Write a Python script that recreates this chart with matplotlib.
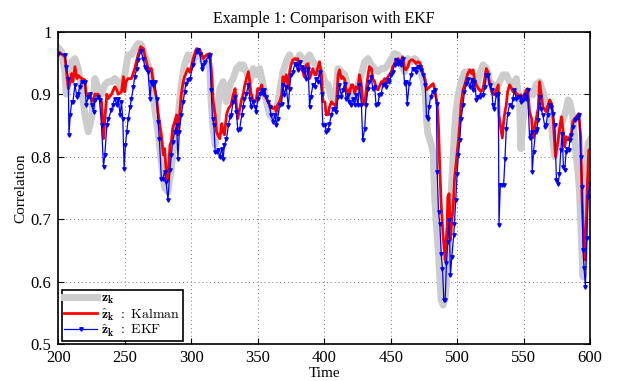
import numpy as np
import matplotlib
matplotlib.use("Agg")
import matplotlib.pyplot as plt
from matplotlib.ticker import FuncFormatter

# true correlation z_k (grey)
t_true = [200, 202.5, 205, 206, 207.5, 210, 212.5, 215, 217.5, 220, 222.5, 225, 226.5, 227.5, 230,
          232.5, 235, 237.5, 240, 242.5, 245, 247.5, 250, 252.5, 255, 257.5, 260, 262.5, 265, 267.5,
          270, 272.5, 275, 277.5, 280, 282.5, 285, 287.5, 290, 292.5, 295, 297.5, 300, 301.5, 304,
          306.5, 309, 311.5, 314, 315, 316.5, 318, 319, 320, 321.5, 324, 326.5, 329, 331.5, 334,
          336.5, 338, 339, 341.5, 344, 346.5, 349, 351.5, 354, 356.5, 359, 361.5, 364, 366.5, 369,
          371.5, 374, 376.5, 379, 381.5, 384, 386.5, 389, 391.5, 394, 396.5, 399, 400.5, 403, 405.5,
          408, 410.5, 413, 415.5, 418, 420.5, 423, 425.5, 428, 430.5, 433, 435.5, 438, 440.5, 443,
          445.5, 448, 450.5, 453, 455.5, 458, 460.5, 463, 465.5, 468, 470.5, 472, 474.5, 476, 477,
          478, 479.5, 481, 482, 483, 484.5, 486, 487, 488, 489.5, 491, 492, 493, 494.5, 496, 497.5,
          499, 501, 503, 505.5, 507, 509.5, 512, 514.5, 517, 519.5, 522, 524.5, 527, 529.5, 532,
          534.5, 537, 539.5, 542, 544.5, 547, 548, 549.5, 552, 554.5, 557, 559.5, 562, 564.5, 567,
          569.7, 572, 573.5, 574.7, 577, 579.7, 582, 583.5, 584.7, 586, 587, 589.7, 591, 592, 593.5,
          594.7, 596, 597, 598.5, 600]
z_true = [0.974, 0.968, 0.936, 0.9, 0.92, 0.952, 0.957, 0.941, 0.91, 0.867, 0.84, 0.861, 0.9, 0.925, 0.91,
          0.9, 0.915, 0.92, 0.92, 0.925, 0.92, 0.904, 0.931, 0.963, 0.963, 0.973, 0.981, 0.979, 0.963, 0.947,
          0.931, 0.877, 0.84, 0.792, 0.75, 0.744, 0.781, 0.829, 0.861, 0.915, 0.947, 0.963, 0.955, 0.952, 0.968,
          0.963, 0.952, 0.957, 0.941, 0.888, 0.845, 0.819, 0.835, 0.877, 0.909, 0.92, 0.888, 0.915, 0.925, 0.941,
          0.947, 0.941, 0.947, 0.936, 0.92, 0.941, 0.931, 0.941, 0.915, 0.888, 0.867, 0.861, 0.872, 0.904, 0.936,
          0.952, 0.963, 0.952, 0.952, 0.963, 0.957, 0.952, 0.963, 0.952, 0.947, 0.941, 0.931, 0.92, 0.915, 0.893,
          0.888, 0.941, 0.936, 0.931, 0.909, 0.888, 0.888, 0.915, 0.931, 0.952, 0.957, 0.947, 0.941, 0.936, 0.941,
          0.941, 0.947, 0.957, 0.965, 0.963, 0.947, 0.936, 0.957, 0.952, 0.957, 0.952, 0.939, 0.923, 0.901, 0.859,
          0.837, 0.827, 0.816, 0.805, 0.741, 0.688, 0.645, 0.608, 0.571, 0.563, 0.575, 0.6, 0.64, 0.7, 0.76, 0.82,
          0.87, 0.9, 0.92, 0.935, 0.936, 0.936, 0.931, 0.909, 0.931, 0.947, 0.941, 0.92, 0.915, 0.909, 0.92,
          0.931, 0.931, 0.92, 0.915, 0.925, 0.888, 0.813, 0.856, 0.904, 0.904, 0.899, 0.915, 0.92, 0.904, 0.888,
          0.88, 0.827, 0.8, 0.816, 0.843, 0.859, 0.875, 0.891, 0.888, 0.875, 0.864, 0.8, 0.773, 0.747, 0.667,
          0.608, 0.651, 0.773, 0.821, 0.827]

# Kalman estimate (red)
t_kal = [200, 205, 207.5, 209, 210, 211, 212.5, 214, 215, 217.5, 220, 221, 222.5, 224, 226.5, 227.5,
         230, 232.5, 234, 235, 236.5, 237.5, 240, 242.5, 244, 245, 247.5, 249, 250, 251, 252.5, 255,
         257.5, 260, 262, 264, 265, 267.5, 270, 271, 272.5, 274, 275, 276, 277.5, 279, 280, 281, 282.5,
         284, 285, 286, 287.5, 289, 290, 291, 292.5, 294, 295, 297.5, 299, 301.5, 304, 306.5, 309, 311.5,
         314, 315, 316.5, 318, 319, 320, 321.5, 323, 324, 325, 326.5, 328, 329, 330, 331.5, 333, 334, 335,
         336.5, 338, 339, 340, 341.5, 343, 344, 345, 346.5, 348, 349, 350, 351.5, 353, 354, 355, 356.5, 358,
         359, 360, 361.5, 363, 364, 365, 366.5, 368, 369, 370, 371.5, 373, 374, 375, 376.5, 378, 379, 380,
         381.5, 384, 385, 386.5, 388, 389, 390, 391.5, 393, 394, 395, 396.5, 398, 399, 400.5, 401.5, 403,
         404, 405.5, 406.5, 408, 409, 410.5, 411.5, 413, 414, 415.5, 416.5, 418, 419, 420.5, 421.5, 423, 424,
         425.5, 426.5, 428, 429, 430.5, 431.5, 433, 434, 435.5, 436.5, 438, 439, 440.5, 441.5, 443, 444,
         445.5, 446.5, 448, 449, 450.5, 451.5, 453, 454, 455.5, 456.5, 458, 459, 460.5, 461.5, 463, 464,
         465.5, 466.5, 468, 469, 470.5, 472, 474.5, 476, 477, 478, 481, 482, 483, 485, 486, 487, 488, 489.5,
         491, 491.5, 492.5, 493, 494, 495, 496, 497, 498, 499.5, 501, 502, 503, 504.5, 506, 508, 509.5, 511,
         512, 513, 514.5, 516, 517, 518, 519.5, 521, 522, 523, 524.5, 526, 527, 528, 529.5, 531, 531.5, 532.5,
         534, 535, 536, 537, 538, 539.5, 541, 542, 543, 544.5, 546, 547, 548, 549.5, 551, 552, 553, 554.5,
         556, 557, 558, 559.5, 561, 562, 563, 564.5, 566, 567, 568, 569.7, 571, 572, 574, 576, 577, 578.5,
         580, 581, 582, 583.5, 584.7, 586, 587, 588.5, 589.7, 591.5, 593, 594, 595.2, 596.5, 597.7, 599, 600]
z_kal = [0.968, 0.96, 0.909, 0.92, 0.933, 0.92, 0.944, 0.925, 0.93, 0.925, 0.923, 0.9, 0.9, 0.896, 0.888, 0.9,
         0.9, 0.888, 0.829, 0.86, 0.9, 0.893, 0.9, 0.912, 0.907, 0.9, 0.904, 0.928, 0.904, 0.92, 0.925, 0.925,
         0.941, 0.963, 0.976, 0.973, 0.963, 0.941, 0.941, 0.925, 0.907, 0.893, 0.872, 0.856, 0.835, 0.803, 0.813,
         0.781, 0.763, 0.819, 0.824, 0.845, 0.856, 0.867, 0.835, 0.861, 0.9, 0.92, 0.928, 0.941, 0.935, 0.957,
         0.973, 0.971, 0.957, 0.963, 0.965, 0.941, 0.888, 0.867, 0.84, 0.835, 0.829, 0.853, 0.84, 0.835, 0.867,
         0.877, 0.88, 0.883, 0.899, 0.909, 0.88, 0.861, 0.877, 0.893, 0.899, 0.912, 0.925, 0.936, 0.92, 0.901,
         0.891, 0.888, 0.893, 0.909, 0.907, 0.915, 0.904, 0.901, 0.893, 0.888, 0.883, 0.88, 0.877, 0.88, 0.872,
         0.883, 0.888, 0.899, 0.928, 0.92, 0.931, 0.909, 0.936, 0.947, 0.955, 0.957, 0.955, 0.957, 0.944, 0.936,
         0.928, 0.947, 0.949, 0.925, 0.931, 0.941, 0.931, 0.931, 0.941, 0.952, 0.931, 0.888, 0.888, 0.867, 0.867,
         0.88, 0.888, 0.885, 0.883, 0.877, 0.931, 0.939, 0.925, 0.928, 0.923, 0.904, 0.907, 0.901, 0.915, 0.915,
         0.901, 0.912, 0.909, 0.931, 0.915, 0.888, 0.883, 0.904, 0.931, 0.944, 0.941, 0.925, 0.92, 0.909, 0.907,
         0.912, 0.92, 0.92, 0.925, 0.92, 0.928, 0.931, 0.936, 0.944, 0.949, 0.955, 0.957, 0.955, 0.952, 0.96,
         0.941, 0.939, 0.944, 0.952, 0.955, 0.955, 0.952, 0.949, 0.952, 0.95, 0.933, 0.923, 0.907, 0.909, 0.915,
         0.917, 0.909, 0.885, 0.848, 0.779, 0.725, 0.672, 0.635, 0.656, 0.688, 0.736, 0.741, 0.667, 0.699, 0.715,
         0.763, 0.795, 0.827, 0.853, 0.885, 0.907, 0.917, 0.933, 0.939, 0.933, 0.939, 0.925, 0.915, 0.909, 0.907,
         0.904, 0.909, 0.928, 0.941, 0.936, 0.917, 0.904, 0.901, 0.899, 0.907, 0.915, 0.867, 0.851, 0.83, 0.856,
         0.872, 0.883, 0.904, 0.915, 0.909, 0.904, 0.907, 0.901, 0.899, 0.896, 0.899, 0.893, 0.901, 0.907, 0.909,
         0.872, 0.861, 0.83, 0.84, 0.861, 0.877, 0.92, 0.904, 0.88, 0.875, 0.872, 0.88, 0.891, 0.885, 0.869, 0.8,
         0.827, 0.843, 0.864, 0.837, 0.816, 0.832, 0.827, 0.832, 0.837, 0.856, 0.861, 0.864, 0.869, 0.832, 0.731,
         0.672, 0.635, 0.736, 0.811, 0.811]

# EKF estimate (blue)
t_ekf = [200, 205, 206, 207.5, 208, 209, 210, 211, 212.5, 214, 215, 216, 217.5, 220, 221, 222.5, 224, 225,
         226.5, 227.5, 230, 231, 232.5, 234, 235, 236.5, 237.5, 240, 241, 242.5, 244, 245, 246.5, 247.5, 248.5,
         249.5, 250.5, 251.5, 252.5, 254, 255, 256.5, 257.5, 259, 260, 262, 264, 265, 266, 267.5, 269, 270, 271,
         272.5, 274, 275, 276, 277.5, 278.5, 280, 281, 282.5, 284, 285, 286, 287.5, 289, 290, 291, 292.5, 294,
         295, 296, 297.5, 299, 301.5, 304, 305, 306.5, 308, 309, 310, 313, 314, 315, 316, 317, 318, 319, 320,
         321.5, 323, 324, 325, 326.5, 328, 329, 330, 331.5, 333, 334, 335, 336.5, 338, 339, 340, 341.5, 343,
         344, 345, 346.5, 348, 349, 350, 351.5, 353, 354, 355, 356.5, 358, 359, 360, 361.5, 363, 364, 365,
         366.5, 368, 369, 370, 371.5, 373, 374, 375, 376.5, 378, 379, 380, 381.5, 383, 384, 385, 386.5, 388,
         389, 390, 391.5, 393, 394, 395, 396.5, 398, 399, 400.5, 401.5, 403, 404, 405.5, 406.5, 408, 409,
         410.5, 411.5, 413, 414, 415.5, 416.5, 418, 419, 420.5, 421.5, 423, 424, 425.5, 426.5, 428, 429, 430.5,
         431.5, 433, 434, 435.5, 436.5, 438, 439, 440.5, 441.5, 443, 444, 445.5, 446.5, 448, 449, 450.5, 451.5,
         453, 454, 455.5, 456.5, 458, 459, 460.5, 461.5, 462.5, 464, 465.5, 466.5, 468, 469, 470.5, 472, 473,
         474.5, 476, 477, 478, 479, 480, 481.5, 483, 484.5, 485, 486, 487, 488, 489, 490, 491, 492, 493, 494,
         495, 496, 497.5, 498, 499, 500, 501, 502, 503, 504.5, 505.5, 507, 508, 509.5, 511, 512, 513, 514.5,
         516, 517, 518, 519.5, 521, 522, 523, 524.5, 526, 527, 528, 529.5, 531, 531.5, 532.5, 534, 535, 536,
         537, 538, 539.5, 541, 542, 543, 544.5, 546, 547, 548, 549.5, 551, 552, 553, 554.5, 556, 556.5, 557.5,
         559, 560, 561, 562, 563, 564.5, 566, 567, 568, 569.7, 571, 572, 573.5, 574.7, 576, 577, 578, 579,
         580, 581, 582, 583, 584, 585, 586, 587, 588.5, 589.7, 591, 592, 593, 594, 594.7, 595.5, 596.5, 597.5,
         598.5, 599.7]
z_ekf = [0.965, 0.963, 0.944, 0.925, 0.835, 0.867, 0.888, 0.888, 0.915, 0.896, 0.9, 0.912, 0.92, 0.92, 0.883,
         0.896, 0.9, 0.883, 0.872, 0.89, 0.896, 0.89, 0.85, 0.784, 0.803, 0.85, 0.86, 0.875, 0.883, 0.893, 0.883,
         0.893, 0.867, 0.888, 0.86, 0.781, 0.819, 0.84, 0.86, 0.88, 0.893, 0.912, 0.928, 0.941, 0.955, 0.969,
         0.957, 0.944, 0.941, 0.936, 0.893, 0.92, 0.915, 0.92, 0.893, 0.856, 0.829, 0.765, 0.765, 0.776, 0.76,
         0.731, 0.779, 0.803, 0.824, 0.84, 0.851, 0.797, 0.84, 0.867, 0.888, 0.904, 0.917, 0.923, 0.925, 0.947,
         0.968, 0.971, 0.965, 0.941, 0.947, 0.952, 0.96, 0.963, 0.907, 0.861, 0.851, 0.808, 0.808, 0.811, 0.8,
         0.813, 0.797, 0.819, 0.829, 0.851, 0.864, 0.867, 0.888, 0.896, 0.872, 0.843, 0.845, 0.867, 0.88, 0.893,
         0.901, 0.915, 0.893, 0.88, 0.888, 0.88, 0.872, 0.893, 0.901, 0.907, 0.901, 0.907, 0.896, 0.888, 0.88,
         0.867, 0.856, 0.867, 0.851, 0.861, 0.883, 0.885, 0.915, 0.899, 0.912, 0.88, 0.909, 0.931, 0.936, 0.949,
         0.947, 0.939, 0.952, 0.944, 0.941, 0.936, 0.925, 0.941, 0.88, 0.896, 0.915, 0.912, 0.925, 0.92, 0.936,
         0.901, 0.851, 0.851, 0.84, 0.843, 0.853, 0.867, 0.877, 0.877, 0.872, 0.896, 0.915, 0.896, 0.907, 0.917,
         0.893, 0.899, 0.888, 0.883, 0.893, 0.883, 0.899, 0.883, 0.915, 0.883, 0.827, 0.845, 0.883, 0.909, 0.92,
         0.928, 0.909, 0.912, 0.883, 0.885, 0.899, 0.901, 0.915, 0.917, 0.912, 0.923, 0.92, 0.931, 0.936, 0.947,
         0.955, 0.949, 0.952, 0.947, 0.957, 0.917, 0.92, 0.885, 0.917, 0.931, 0.941, 0.941, 0.936, 0.944, 0.944,
         0.939, 0.93, 0.915, 0.864, 0.861, 0.88, 0.896, 0.904, 0.907, 0.885, 0.776, 0.712, 0.693, 0.645, 0.621,
         0.571, 0.571, 0.63, 0.664, 0.699, 0.611, 0.64, 0.675, 0.693, 0.731, 0.773, 0.803, 0.827, 0.861, 0.883,
         0.904, 0.917, 0.925, 0.912, 0.923, 0.907, 0.92, 0.891, 0.896, 0.896, 0.899, 0.899, 0.912, 0.931, 0.931,
         0.915, 0.907, 0.883, 0.877, 0.899, 0.901, 0.691, 0.755, 0.755, 0.755, 0.797, 0.845, 0.869, 0.883, 0.88,
         0.893, 0.907, 0.893, 0.896, 0.896, 0.888, 0.891, 0.899, 0.893, 0.907, 0.83, 0.84, 0.776, 0.808, 0.84,
         0.845, 0.859, 0.896, 0.877, 0.867, 0.848, 0.851, 0.867, 0.883, 0.88, 0.869, 0.85, 0.763, 0.757, 0.773,
         0.811, 0.837, 0.784, 0.779, 0.808, 0.813, 0.811, 0.827, 0.835, 0.848, 0.859, 0.861, 0.864, 0.867, 0.8,
         0.752, 0.651, 0.622, 0.592, 0.67, 0.736, 0.757]

plt.rcParams["font.family"] = "Liberation Serif"
plt.rcParams["mathtext.fontset"] = "cm"

fig = plt.figure(figsize=(6.23, 3.81), dpi=100)
ax = fig.add_axes([0.0936, 0.0963, 0.8535, 0.8205])

ax.plot(t_true, z_true, color=(0.8, 0.8, 0.8), lw=5, label=r"$\mathbf{z_k}$")
ax.plot(t_kal, z_kal, color="r", lw=2, label=r"$\mathbf{\hat{z}_k}\ :\ \mathrm{Kalman}$")
ax.plot(t_ekf, z_ekf, color="b", lw=0.9, marker="v", ms=2.5,
        label=r"$\mathbf{\hat{z}_k}\ :\ \mathrm{EKF}$")

ax.set_xlim(200, 600)
ax.set_ylim(0.5, 1)
ax.set_xticks(np.arange(200, 601, 50))
ax.set_yticks(np.arange(0.5, 1.01, 0.1))
ax.yaxis.set_major_formatter(FuncFormatter(lambda v, p: "%g" % round(v, 1)))
ax.tick_params(direction="in", top=True, right=True, labelsize=12, length=4, width=0.8)
ax.tick_params(axis="x", pad=4)
ax.tick_params(axis="y", pad=5)
ax.grid(True, linestyle=(0, (1, 3)), color="0.5", lw=0.7)
for s in ax.spines.values():
    s.set_linewidth(1.2)

ax.set_title("Example 1: Comparison with EKF", fontsize=11.5, pad=6)
ax.set_xlabel("Time", fontsize=11, labelpad=1)
ax.set_ylabel("Correlation", fontsize=11, labelpad=2)

leg = ax.legend(loc="lower left", fontsize=10, fancybox=False, edgecolor="k", framealpha=1,
                borderaxespad=0.25, borderpad=0.15, labelspacing=0.0, handletextpad=0.3,
                handlelength=2.4, numpoints=1)
leg.get_frame().set_linewidth(1.2)

fig.savefig("out.png", dpi=100)
